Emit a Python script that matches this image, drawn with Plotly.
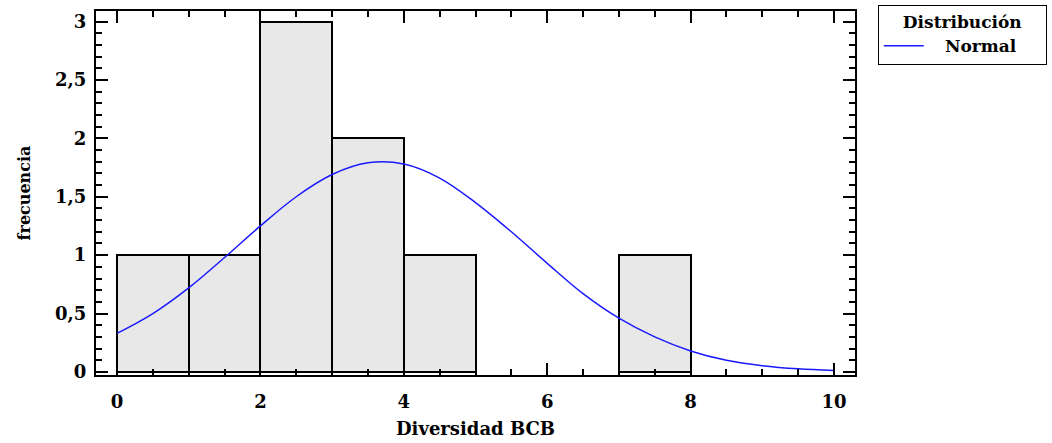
import plotly.graph_objects as go

# Histogram of "Diversidad BCB": bin centres, counts and bin width
bin_centers = [0.5, 1.5, 2.5, 3.5, 4.5, 7.5]
counts = [1, 1, 3, 2, 1, 1]
bin_width = 1.0

# Fitted normal curve (scaled to frequencies)
curve_x = [0, 0.5, 1, 1.5, 2, 2.5, 3, 3.5, 4, 4.5, 5, 5.5, 6, 6.5, 7, 7.5, 8, 8.5, 9, 9.5, 10]
curve_y = [0.33, 0.50, 0.72, 0.98, 1.25, 1.50, 1.69, 1.79, 1.78, 1.66, 1.45, 1.20, 0.93, 0.67,
           0.46, 0.30, 0.18, 0.10, 0.054, 0.027, 0.013]

x_tickvals = [0, 2, 4, 6, 8, 10]
x_ticktext = ["0", "2", "4", "6", "8", "10"]
y_tickvals = [0, 0.5, 1, 1.5, 2, 2.5, 3]
y_ticktext = ["0", "0,5", "1", "1,5", "2", "2,5", "3"]

FONT = "DejaVu Serif"
NBSP = "&nbsp;"

fig = go.Figure()
fig.add_trace(go.Bar(
    x=bin_centers, y=counts, width=[bin_width] * len(counts),
    marker=dict(color="#e8e8e8", line=dict(color="black", width=2)),
    showlegend=False, hoverinfo="skip",
))
fig.add_trace(go.Scatter(
    x=curve_x, y=curve_y, mode="lines", name=NBSP * 3 + "<b>Normal</b>",
    line=dict(color="#1a1aff", width=1.5, shape="spline"),
))

axis_common = dict(
    showline=True, linecolor="black", linewidth=2, mirror="allticks",
    ticks="inside", ticklen=12, tickwidth=2, tickcolor="black",
    showgrid=False, zeroline=False,
    tickfont=dict(family=FONT, size=18, color="black", weight="bold"),
)

fig.update_xaxes(
    **axis_common,
    range=[-0.293, 10.293],
    tickvals=x_tickvals, ticktext=x_ticktext,
    minor=dict(dtick=0.5, tick0=0, ticks="inside", ticklen=6, tickwidth=2, tickcolor="black"),
    ticklabelstandoff=9,
    title=dict(text="<b>Diversidad BCB</b>", font=dict(family=FONT, size=18, color="black"),
               standoff=12),
)
fig.update_yaxes(
    **axis_common,
    range=[-0.026, 3.09],
    tickvals=y_tickvals, ticktext=y_ticktext,
    minor=dict(dtick=0.1, tick0=0, ticks="inside", ticklen=6, tickwidth=2, tickcolor="black"),
    ticklabelstandoff=4,
    title=dict(text="<b>frecuencia</b>", font=dict(family=FONT, size=16, color="black"),
               standoff=20),
)

fig.update_layout(
    width=1052, height=443,
    margin=dict(l=96, r=197, t=11, b=68, autoexpand=False),
    paper_bgcolor="white", plot_bgcolor="white",
    bargap=0,
    showlegend=True,
    legend=dict(
        x=1.030, y=1.016, xanchor="left", yanchor="top",
        bordercolor="black", borderwidth=1, bgcolor="white",
        font=dict(family=FONT, size=17, color="black"),
        title=dict(text=NBSP * 4 + "<b>Distribución</b>" + NBSP * 4, side="top center",
                   font=dict(family=FONT, size=17, color="black")),
        itemwidth=40,
        tracegroupgap=0,
    ),
)

fig.write_html("out.html")
